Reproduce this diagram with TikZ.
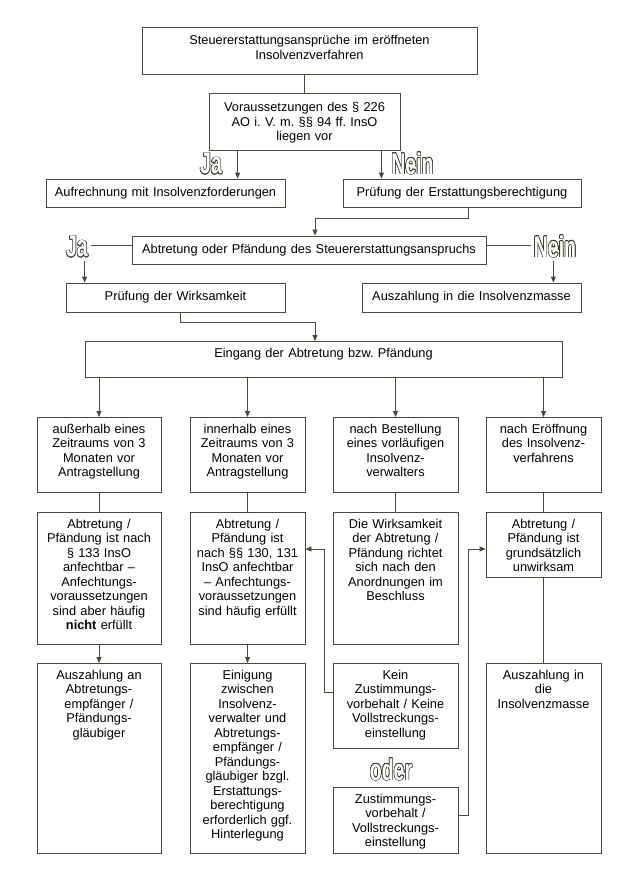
\documentclass[tikz,border=0pt]{standalone}
\usepackage{fontspec}
\setmainfont{Liberation Sans}
\usepackage{graphicx}
\usepackage{contour}
\usetikzlibrary{arrows.meta}
\definecolor{boxline}{RGB}{72,74,58}
\definecolor{wordline}{RGB}{60,62,50}
\contourlength{0.6pt}
\frenchspacing
\newcommand{\outlined}[1]{{\color{white}\contour{wordline}{\scalebox{0.75}[1.15]{#1}}}}

\begin{document}
\begin{tikzpicture}[x=1pt, y=-1pt,
        boxbase/.style={draw=boxline, line width=0.8pt, align=center, font=\fontsize{12.8}{14.5}\selectfont\frenchspacing},
        box/.style={boxbase, anchor=north, inner xsep=4pt, inner ysep=6pt, text height=10pt},
        lbox/.style={boxbase, inner xsep=4pt, inner ysep=0pt, minimum height=28pt},
        word/.style={inner sep=3pt, font=\fontsize{26}{26}\selectfont\bfseries},
        link/.style={draw=boxline, line width=0.8pt},
        arr/.style={link, -{Triangle[length=6pt,width=5pt]}},
    ]
	\useasboundingbox (0,0) rectangle (630,891);
	\fill[white] (0,0) rectangle (630,891);

	\node[box, text width=327pt, text height=11.5pt, text depth=23.5pt] (b_top) at (309.5,27) {Steuererstattungsansprüche im eröffneten\\Insolvenzverfahren};
	\node[box, text width=183pt, text height=12.5pt, text depth=32.5pt] (b_vor) at (304.5,93) {Voraussetzungen des § 226\\AO i. V. m. §§ 94 ff. InsO\\liegen vor};
	\node[lbox, text width=231pt] (b_auf) at (165.5,193) {Aufrechnung mit Insolvenzforderungen};
	\node[lbox, text width=230pt] (b_pe) at (462,193) {Prüfung der Erstattungsberechtigung};
	\node[lbox, text width=346pt] (b_abt) at (309,250) {Abtretung oder Pfändung des Steuererstattungsanspruchs};
	\node[lbox, text width=211pt, minimum height=29pt] (b_pw) at (175.5,297.5) {Prüfung der Wirksamkeit};
	\node[lbox, text width=211pt, minimum height=29pt] (b_az) at (471.5,297.5) {Auszahlung in die Insolvenzmasse};
	\node[box, text width=469pt, text depth=14pt] (b_ein) at (323.5,341) {Eingang der Abtretung bzw. Pfändung};

	\node[box, text width=116pt, text depth=53pt] (c_a1) at (99,417) {außerhalb eines\\Zeitraums von 3\\Monaten vor\\Antragstellung};
	\node[box, text width=107pt, text depth=53pt] (c_a2) at (247.5,417) {innerhalb eines\\Zeitraums von 3\\Monaten vor\\Antragstellung};
	\node[box, text width=117pt, text depth=53pt] (c_a3) at (395.5,417) {nach Bestellung\\eines vorläufigen\\Insolvenz-\\verwalters};
	\node[box, text width=107pt, text depth=53pt] (c_a4) at (543.5,417) {nach Eröffnung\\des Insolvenz-\\verfahrens};

	\node[box, text width=116pt, text depth=110pt] (c_b1) at (99,512) {Abtretung /\\Pfändung ist nach\\§ 133 InsO\\anfechtbar –\\Anfechtungs-\\voraussetzungen\\sind aber häufig\\\textbf{nicht} erfüllt};
	\node[box, text width=107pt, text depth=110pt] (c_b2) at (247.5,512) {Abtretung /\\Pfändung ist\\nach §§ 130, 131\\InsO anfechtbar\\– Anfechtungs-\\voraussetzungen\\sind häufig erfüllt};
	\node[box, text width=117pt, text depth=110pt] (c_b3) at (395.5,512) {Die Wirksamkeit\\der Abtretung /\\Pfändung richtet\\sich nach den\\Anordnungen im\\Beschluss};
	\node[box, text width=107pt, text depth=43pt] (c_b4) at (543.5,512) {Abtretung /\\Pfändung ist\\grundsätzlich\\unwirksam};

	\node[box, text width=116pt, text depth=168pt] (c_c1) at (99,663) {Auszahlung an\\Abtretungs-\\empfänger /\\Pfändungs-\\gläubiger};
	\node[box, text width=107pt, text depth=168pt] (c_c2) at (247.5,663) {Einigung\\zwischen\\Insolvenz-\\verwalter und\\Abtretungs-\\empfänger /\\Pfändungs-\\gläubiger bzgl.\\Erstattungs-\\berechtigung\\erforderlich ggf.\\Hinterlegung};
	\node[box, text width=117pt, text depth=63pt] (c_c3) at (395.5,663) {Kein\\Zustimmungs-\\vorbehalt / Keine\\Vollstreckungs-\\einstellung};
	\node[box, text width=117pt, text depth=44pt] (c_d3) at (395.5,787) {Zustimmungs-\\vorbehalt /\\Vollstreckungs-\\einstellung};
	\node[box, text width=107pt, text depth=168pt] (c_c4) at (543.5,663) {Auszahlung in\\die\\Insolvenzmasse};

	\node[word] (w_ja1) at (211,164) {\outlined{Ja}};
	\node[word] (w_nein1) at (412.5,164) {\outlined{Nein}};
	\node[word] (w_ja2) at (77,247) {\outlined{Ja}};
	\node[word] (w_nein2) at (555,247) {\outlined{Nein}};
	\node[word] (w_oder) at (391,770) {\outlined{oder}};

	\draw[link] (b_top.south -| b_vor.north) -- (b_vor.north);
	\draw[arr] ([xshift=29pt]b_vor.south west) -- ([xshift=29pt]b_vor.south west |- b_auf.north);
	\draw[arr] ([xshift=-19pt]b_vor.south east) -- ([xshift=-19pt]b_vor.south east |- b_pe.north);
	\draw[arr] ([xshift=6pt]b_pe.south) -- ++(0,11) -| ([xshift=6pt]b_abt.north);
	\draw[link] ([yshift=5pt]b_abt.west) -- ([yshift=5pt]b_abt.west -| w_ja2.east);
	\draw[link] ([yshift=5pt]b_abt.east) -- ([yshift=5pt]b_abt.east -| w_nein2.west);
	\draw[arr] ([xshift=19pt]b_pw.north west |- w_ja2.south) -- ([xshift=19pt]b_pw.north west);
	\draw[arr] ([xshift=-28pt]b_az.north east |- w_nein2.south) -- ([xshift=-28pt]b_az.north east);
	\draw[arr] ([xshift=4.5pt]b_pw.south) -- ++(0,10) -| ([xshift=-8.5pt]b_ein.north);

	\foreach \n in {1,...,4} {
		\draw[arr] (c_a\n.north |- b_ein.south) -- (c_a\n.north);
		\draw[link] (c_a\n) -- (c_b\n);
	}
	\draw[arr] (c_b1) -- (c_c1);
	\draw[arr] (c_b2) -- (c_c2);
	\draw[link] (c_b4) -- (c_c4);
	\draw[arr] ([yshift=-29pt]c_c3.north west) -- ++(-8pt,0) |- ([yshift=-37pt]c_b2.north east);
	\draw[arr] ([yshift=-28pt]c_d3.north east) -- ++(10pt,0) |- ([yshift=-37pt]c_b4.north west);

    \end{tikzpicture}
\end{document}
